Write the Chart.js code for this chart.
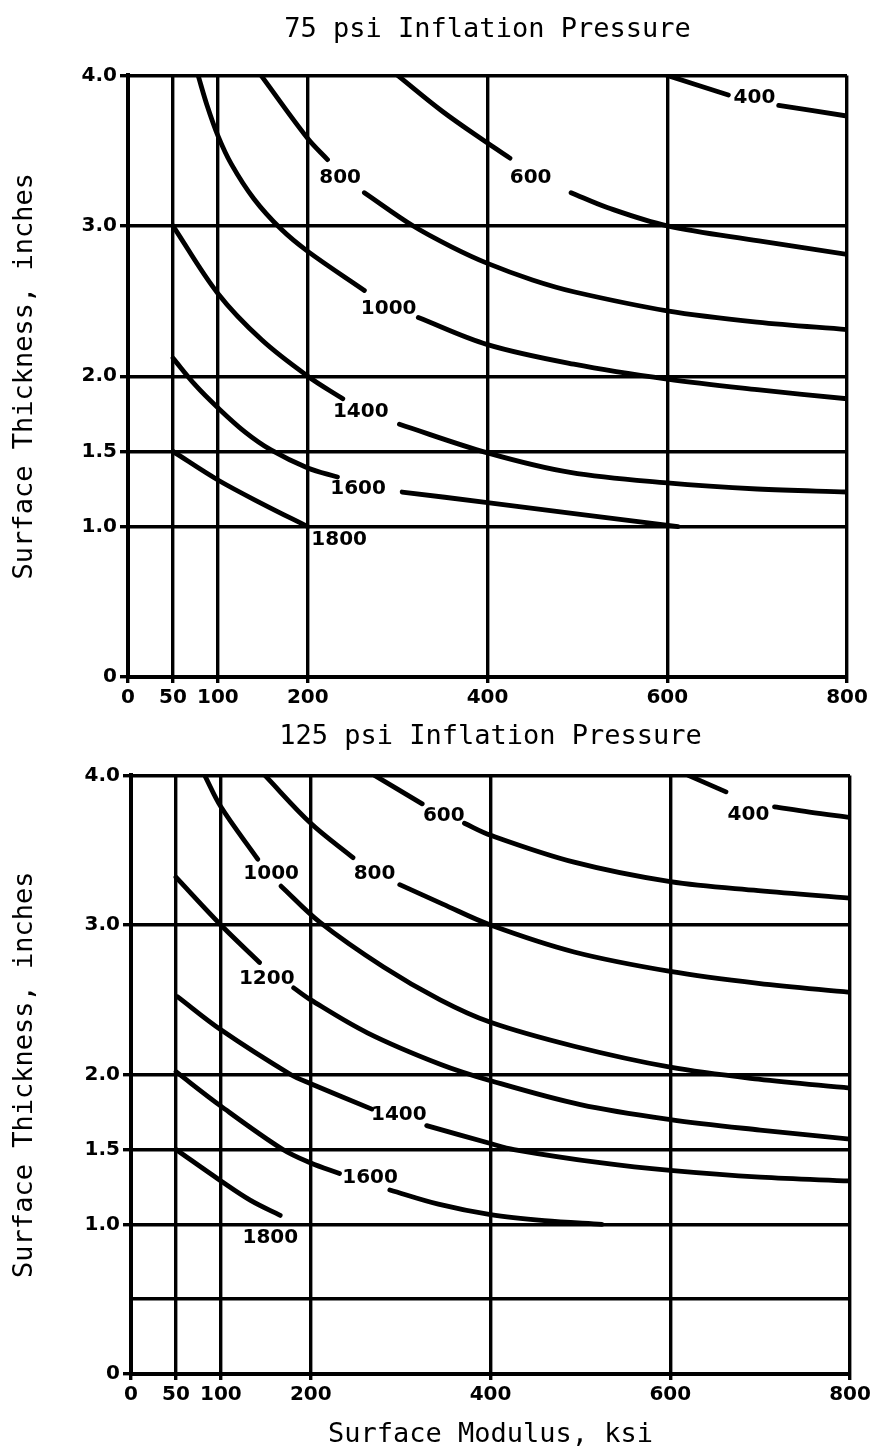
<!DOCTYPE html>
<html>
<head>
<meta charset="utf-8">
<script src="https://cdn.jsdelivr.net/npm/chart.js@4.4.1/dist/chart.umd.min.js"></script>
<style>
    body { margin: 0; background: #fff; }
    #topWrap { position: absolute; left: 0; top: 0; width: 878px; height: 720px; }
    #bottomWrap { position: absolute; left: 0; top: 720px; width: 878px; height: 733px; }
</style>
</head>
<body>
<div id="topWrap"><canvas id="chartTop" width="878" height="720"></canvas></div>
<div id="bottomWrap"><canvas id="chartBottom" width="878" height="733"></canvas></div>
<script>
// axis ticks
var xTicks = [0, 50, 100, 200, 400, 600, 800];
var yTicksTop = [0, 1.0, 1.5, 2.0, 3.0, 4.0];
var yLabelsTop = ['0', '1.0', '1.5', '2.0', '3.0', '4.0'];
var yTicksBottom = [0, 0.5, 1.0, 1.5, 2.0, 3.0, 4.0];
var yLabelsBottom = ['0', '', '1.0', '1.5', '2.0', '3.0', '4.0'];

// 75 psi curves [modulus ksi, thickness in], null = gap where the label sits
var p75_400 = [[600, 4.0], [668, 3.87], null, [724, 3.80], [800, 3.73]];
var p75_600 = [[300, 4.0], [350, 3.76], [400, 3.55], [425, 3.45], null, [493, 3.22], [534, 3.12], [600, 3.0], [702, 2.90], [800, 2.81]];
var p75_800 = [[148, 4.0], [200, 3.58], [222, 3.44], null, [263, 3.22], [317, 3.0], [360, 2.86], [400, 2.75], [450, 2.64], [497, 2.56], [600, 2.435], [700, 2.36], [800, 2.31]];
var p75_1000 = [[78, 4.0], [88, 3.80], [100, 3.60], [115, 3.41], [140, 3.18], [170, 2.98], [200, 2.83], [263, 2.57], null, [323, 2.39], [400, 2.21], [496, 2.08], [600, 1.98], [700, 1.91], [800, 1.85]];
var p75_1400 = [[50, 3.0], [100, 2.55], [149, 2.24], [200, 2.0], [239, 1.85], null, [302, 1.68], [400, 1.49], [492, 1.36], [600, 1.29], [700, 1.25], [800, 1.23]];
var p75_1600 = [[50, 2.12], [75, 1.94], [100, 1.79], [130, 1.63], [159, 1.51], [200, 1.39], [233, 1.33], null, [305, 1.23], [400, 1.16], [492, 1.09], [612, 1.0]];
var p75_1800 = [[50, 1.5], [100, 1.31], [150, 1.15], [200, 1.0]];

// 125 psi curves
var p125_400 = [[620, 4.0], [662, 3.89], null, [716, 3.79], [755, 3.755], [800, 3.72]];
var p125_600 = [[271, 4.0], [324, 3.81], null, [371, 3.68], [400, 3.60], [493, 3.42], [600, 3.29], [698, 3.23], [800, 3.18]];
var p125_800 = [[149, 4.0], [200, 3.68], [247, 3.45], null, [299, 3.27], [347, 3.14], [400, 3.0], [493, 2.82], [600, 2.69], [698, 2.61], [800, 2.55]];
var p125_1000 = [[82, 4.0], [100, 3.79], [141, 3.44], null, [167, 3.26], [210, 3.02], [281, 2.72], [344, 2.50], [400, 2.35], [493, 2.19], [600, 2.05], [698, 1.97], [800, 1.91]];
var p125_1200 = [[50, 3.32], [100, 3.0], [143, 2.75], null, [181, 2.58], [200, 2.50], [263, 2.28], [344, 2.07], [400, 1.96], [500, 1.80], [600, 1.70], [700, 1.63], [800, 1.57]];
var p125_1400 = [[52, 2.52], [100, 2.30], [178, 2.0], [200, 1.94], [268, 1.77], null, [329, 1.66], [400, 1.54], [426, 1.5], [524, 1.41], [600, 1.36], [700, 1.315], [800, 1.29]];
var p125_1600 = [[50, 2.02], [100, 1.79], [169, 1.5], [200, 1.41], [232, 1.34], null, [288, 1.23], [342, 1.135], [400, 1.065], [460, 1.025], [524, 1.0]];
var p125_1800 = [[50, 1.5], [100, 1.29], [133, 1.16], [166, 1.06]];

// curve labels [text, modulus, thickness]
var labels75 = [['400', 697, 3.85], ['600', 448, 3.32], ['800', 236, 3.32], ['1000', 290, 2.45], ['1400', 259, 1.76], ['1600', 256, 1.25], ['1800', 235, 0.91]];
var labels125 = [['400', 687, 3.74], ['600', 348, 3.73], ['800', 271, 3.34], ['1000', 156, 3.34], ['1200', 151, 2.64], ['1400', 298, 1.73], ['1600', 266, 1.31], ['1800', 155, 0.91]];

var monoFont = '"DejaVu Sans Mono", "Liberation Mono", monospace';
var boldFont = '"DejaVu Sans", Verdana, sans-serif';

function toPoints(arr) {
    return arr.map(function (p, i) {
        if (p === null) {
            return { x: (arr[i - 1][0] + arr[i + 1][0]) / 2, y: null };
        }
        return { x: p[0], y: p[1] };
    });
}

function curve(arr) {
    return {
        data: toPoints(arr),
        showLine: true,
        borderColor: '#000',
        borderWidth: 4.8,
        borderCapStyle: 'round',
        pointRadius: 0,
        fill: false,
        spanGaps: false,
        tension: 0.35
    };
}

var curveLabels = {
    id: 'curveLabels',
    afterDatasetsDraw: function (chart, args, opts) {
        var ctx = chart.ctx;
        var xs = chart.scales.x, ys = chart.scales.y;
        ctx.save();
        ctx.font = 'bold 20px ' + boldFont;
        ctx.fillStyle = '#000';
        ctx.textAlign = 'center';
        ctx.textBaseline = 'middle';
        opts.items.forEach(function (l) {
            ctx.fillText(l[0], xs.getPixelForValue(l[1]), ys.getPixelForValue(l[2]));
        });
        ctx.restore();
    }
};

function makeChart(id, cfg) {
    return new Chart(document.getElementById(id), {
        type: 'scatter',
        data: { datasets: cfg.curves.map(curve) },
        plugins: [curveLabels],
        options: {
            responsive: false,
            animation: false,
            devicePixelRatio: 1,
            layout: { padding: { left: 0, right: cfg.padRight, top: 0, bottom: 0 } },
            plugins: {
                legend: { display: false },
                tooltip: { enabled: false },
                title: {
                    display: true,
                    fullSize: false,
                    text: cfg.title,
                    color: '#000',
                    font: { family: monoFont, size: 27, weight: 'normal' },
                    padding: cfg.titlePad
                },
                curveLabels: { items: cfg.labels }
            },
            scales: {
                x: {
                    type: 'linear',
                    min: 0,
                    max: 800,
                    afterBuildTicks: function (scale) {
                        scale.ticks = xTicks.map(function (v) { return { value: v }; });
                    },
                    afterFit: function (scale) { scale.height = cfg.xHeight; },
                    ticks: {
                        autoSkip: false,
                        maxRotation: 0,
                        padding: 3,
                        color: '#000',
                        font: { family: boldFont, size: 20, weight: 'bold' },
                        callback: function (v) { return String(v); }
                    },
                    grid: { color: '#000', lineWidth: 3.4, tickLength: 6 },
                    border: { color: '#000', width: 4 },
                    title: cfg.xTitle ? {
                        display: true,
                        text: cfg.xTitle,
                        color: '#000',
                        font: { family: monoFont, size: 27, weight: 'normal' },
                        padding: { top: 0, bottom: 2 }
                    } : { display: false }
                },
                y: {
                    type: 'linear',
                    min: 0,
                    max: 4,
                    afterBuildTicks: function (scale) {
                        scale.ticks = cfg.yTicks.map(function (v) { return { value: v }; });
                    },
                    afterFit: function (scale) { scale.width = cfg.yWidth; },
                    ticks: {
                        padding: 3,
                        color: '#000',
                        font: { family: boldFont, size: 20, weight: 'bold' },
                        callback: function (v, i) { return cfg.yLabels[i]; }
                    },
                    grid: {
                        color: '#000',
                        lineWidth: 3.4,
                        tickLength: 8,
                        tickColor: function (c) { return c.tick && c.tick.value === 0.5 ? 'rgba(0,0,0,0)' : '#000'; }
                    },
                    border: { color: '#000', width: 4 },
                    title: {
                        display: true,
                        text: 'Surface Thickness, inches',
                        color: '#000',
                        font: { family: monoFont, size: 27, weight: 'normal' },
                        padding: { top: 9, bottom: 0 }
                    }
                }
            }
        }
    });
}

makeChart('chartTop', {
    title: '75 psi Inflation Pressure',
    titlePad: { top: 14, bottom: 29 },
    curves: [p75_400, p75_600, p75_800, p75_1000, p75_1400, p75_1600, p75_1800],
    labels: labels75,
    yTicks: yTicksTop,
    yLabels: yLabelsTop,
    yWidth: 128,
    xHeight: 43,
    padRight: 31,
    xTitle: null
});

makeChart('chartBottom', {
    title: '125 psi Inflation Pressure',
    titlePad: { top: 1, bottom: 22 },
    curves: [p125_400, p125_600, p125_800, p125_1000, p125_1200, p125_1400, p125_1600, p125_1800],
    labels: labels125,
    yTicks: yTicksBottom,
    yLabels: yLabelsBottom,
    yWidth: 131,
    xHeight: 79,
    padRight: 28,
    xTitle: 'Surface Modulus, ksi'
});
</script>
</body>
</html>
